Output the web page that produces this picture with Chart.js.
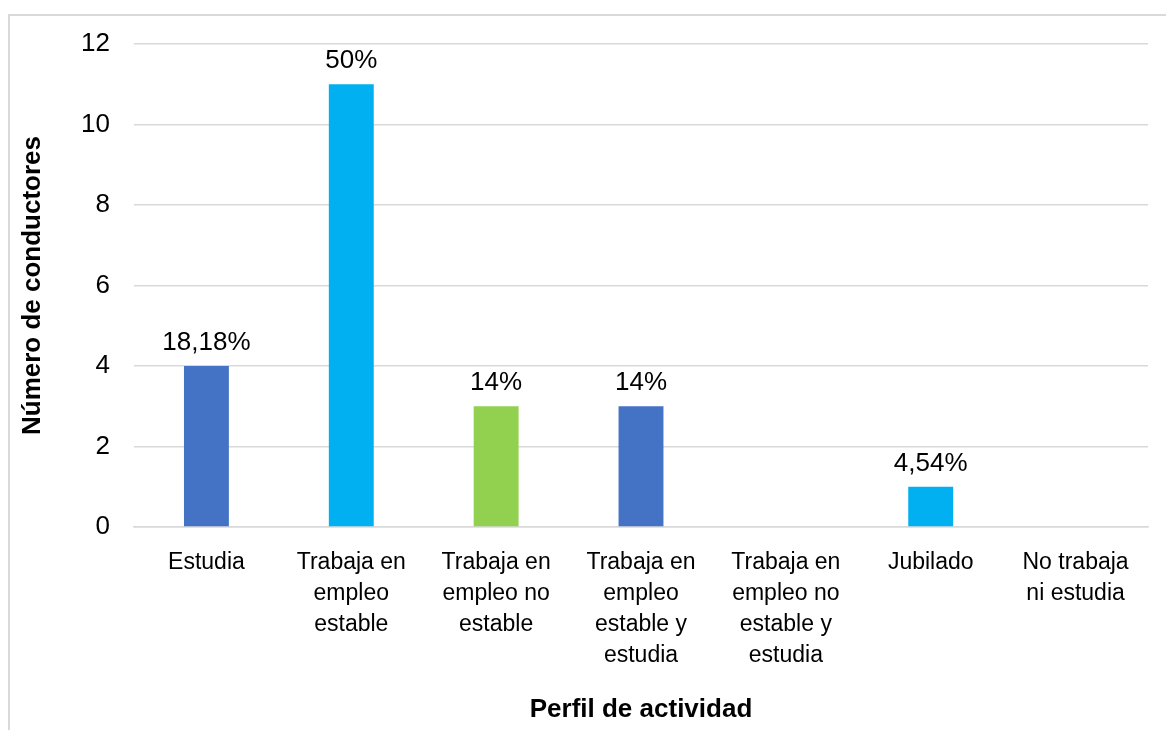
<!DOCTYPE html>
<html>
<head>
<meta charset="utf-8">
<script src="https://cdn.jsdelivr.net/npm/chart.js@4/dist/chart.umd.min.js"></script>
<style>
  html, body { margin: 0; padding: 0; background: #fff; }
  #frame {
    position: absolute; left: 8px; top: 14px; width: 1200px; height: 760px;
    border-left: 2px solid #d9d9d9; border-top: 2px solid #d9d9d9;
  }
  #wrap { position: absolute; left: 0; top: 0; width: 1166px; height: 730px; }
</style>
</head>
<body>
<div id="frame"></div>
<div id="wrap"><canvas id="perfilChart"></canvas></div>
<script>
// Data
var categories = [
  'Estudia',
  ['Trabaja en', 'empleo', 'estable'],
  ['Trabaja en', 'empleo no', 'estable'],
  ['Trabaja en', 'empleo', 'estable y', 'estudia'],
  ['Trabaja en', 'empleo no', 'estable y', 'estudia'],
  'Jubilado',
  ['No trabaja', 'ni estudia']
];
var conductores = [4, 11, 3, 3, 0, 1, 0];
var porcentajes = ['18,18%', '50%', '14%', '14%', '', '4,54%', ''];
var barColors = ['#4472C4', '#00B0F0', '#92D050', '#4472C4', '#4472C4', '#00B0F0', '#92D050'];
var yTicks = [0, 2, 4, 6, 8, 10, 12];

var fontFamily = '"Liberation Sans", Arial, sans-serif';

// Percent labels above the bars
var barLabels = {
  id: 'barLabels',
  afterDatasetsDraw: function(chart) {
    var ctx = chart.ctx;
    var meta = chart.getDatasetMeta(0);
    ctx.save();
    ctx.font = '26px ' + fontFamily;
    ctx.fillStyle = '#000';
    ctx.textAlign = 'center';
    ctx.textBaseline = 'middle';
    meta.data.forEach(function(bar, i) {
      if (porcentajes[i]) {
        ctx.fillText(porcentajes[i], bar.x, bar.y - 23);
      }
    });
    ctx.restore();
  }
};

new Chart(document.getElementById('perfilChart').getContext('2d'), {
  type: 'bar',
  data: {
    labels: categories,
    datasets: [{
      data: conductores,
      backgroundColor: barColors,
      borderWidth: 0,
      barPercentage: 0.31,
      categoryPercentage: 1
    }]
  },
  options: {
    responsive: true,
    maintainAspectRatio: false,
    animation: false,
    layout: { padding: { left: 17, top: 44, right: 18, bottom: 5 } },
    plugins: {
      legend: { display: false },
      tooltip: { enabled: false }
    },
    scales: {
      x: {
        grid: { display: false, drawTicks: false },
        border: { display: true, color: '#d9d9d9', width: 1.5 },
        ticks: {
          color: '#000',
          padding: 20,
          maxRotation: 0,
          autoSkip: false,
          font: { family: fontFamily, size: 23, lineHeight: 1.35 }
        },
        title: {
          display: true,
          text: 'Perfil de actividad',
          color: '#000',
          padding: 0,
          font: { family: fontFamily, size: 26, weight: 'bold' }
        },
        afterFit: function(scale) { scale.height = 198; }
      },
      y: {
        min: 0,
        max: 12,
        afterBuildTicks: function(scale) {
          scale.ticks = yTicks.map(function(v) { return { value: v }; });
        },
        grid: { color: '#d9d9d9', lineWidth: 1.5, drawTicks: false },
        border: { display: false },
        ticks: {
          color: '#000',
          padding: 24,
          font: { family: fontFamily, size: 26 }
        },
        title: {
          display: true,
          text: 'Número de conductores',
          color: '#000',
          padding: 0,
          font: { family: fontFamily, size: 26, weight: 'bold' }
        },
        afterFit: function(scale) { scale.width = 117; }
      }
    }
  },
  plugins: [barLabels]
});
</script>
</body>
</html>
